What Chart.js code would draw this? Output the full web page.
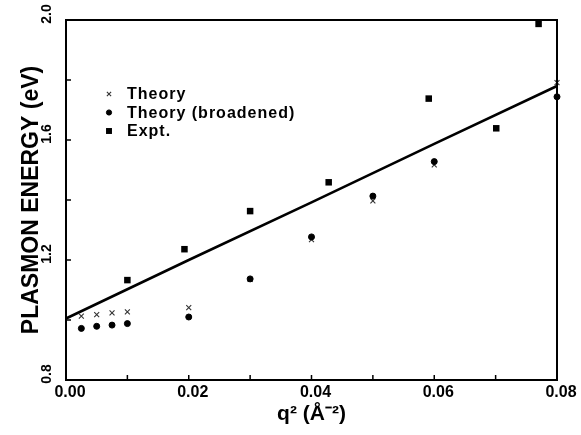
<!DOCTYPE html>
<html>
<head>
<meta charset="utf-8">
<script src="https://cdn.jsdelivr.net/npm/chart.js@4.4.1/dist/chart.umd.min.js"></script>
<style>
    html, body { margin: 0; padding: 0; background: #fff; }
    canvas { display: block; }
</style>
</head>
<body>
<canvas id="plasmonChart" width="581" height="435"></canvas>
<script>
// Plasmon energy vs q^2: theory, broadened theory, experiment and fit line.
const theoryQ2 = [0.0025, 0.005, 0.0075, 0.01, 0.02, 0.03, 0.04, 0.05, 0.06, 0.08];
const theoryEnergy = [1.013, 1.018, 1.024, 1.027, 1.041, 1.135, 1.268, 1.397, 1.517, 1.791];
const broadenedQ2 = [0.0025, 0.005, 0.0075, 0.01, 0.02, 0.03, 0.04, 0.05, 0.06, 0.08];
const broadenedEnergy = [0.972, 0.979, 0.983, 0.988, 1.01, 1.137, 1.277, 1.413, 1.528, 1.744];
const exptQ2 = [0.01, 0.0193, 0.03, 0.0428, 0.0591, 0.0701, 0.077];
const exptEnergy = [1.133, 1.236, 1.363, 1.459, 1.738, 1.639, 1.987];
const fitQ2 = [0, 0.02, 0.04, 0.06, 0.08];
const fitEnergy = [1.005, 1.2, 1.392, 1.587, 1.78];
const xTickLabels = ['0.00', '0.02', '0.04', '0.06', '0.08'];
const yTickLabels = ['0.8', '1.2', '1.6', '2.0'];

const FONT = "'Liberation Sans', Arial, Helvetica, sans-serif";
Chart.defaults.font.family = FONT;
Chart.defaults.color = '#000';

function toPoints(xs, ys) {
    return xs.map((x, i) => ({ x, y: ys[i] }));
}

// box round the plot area and short inward tick marks
const frameAndTicks = {
    id: 'frameAndTicks',
    afterDatasetsDraw(chart) {
        const { ctx, chartArea: area, scales: { x, y } } = chart;
        ctx.save();
        ctx.strokeStyle = '#000';
        ctx.lineWidth = 1.5;
        ctx.beginPath();
        x.ticks.forEach((tick) => {
            const px = x.getPixelForValue(tick.value);
            ctx.moveTo(px, area.bottom);
            ctx.lineTo(px, area.bottom - 5);
        });
        y.ticks.forEach((tick) => {
            const py = y.getPixelForValue(tick.value);
            ctx.moveTo(area.left, py);
            ctx.lineTo(area.left + 5, py);
        });
        ctx.stroke();
        ctx.lineWidth = 2;
        ctx.strokeRect(area.left, area.top, area.right - area.left, area.bottom - area.top);
        ctx.restore();
    },
};

// legend drawn inside the plot, upper left
const insideLegend = {
    id: 'insideLegend',
    afterDraw(chart) {
        const { ctx, chartArea: area } = chart;
        const entries = chart.data.datasets.filter((ds) => !ds.showLine);
        const markerX = area.left + 43;
        const textX = area.left + 61;
        let rowY = area.top + 74;
        ctx.save();
        ctx.font = `bold 16px ${FONT}`;
        ctx.letterSpacing = '1px';
        ctx.textBaseline = 'middle';
        ctx.textAlign = 'left';
        entries.forEach((ds) => {
            ctx.fillStyle = ds.pointBackgroundColor;
            ctx.strokeStyle = ds.pointBorderColor;
            ctx.lineWidth = ds.pointBorderWidth;
            Chart.helpers.drawPoint(ctx, {
                pointStyle: ds.pointStyle,
                radius: ds.legendRadius,
                rotation: 0,
                borderWidth: ds.pointBorderWidth,
            }, markerX, rowY);
            ctx.fillStyle = '#000';
            ctx.fillText(ds.label, textX, rowY + 1);
            rowY += 18.5;
        });
        ctx.restore();
    },
};

const ctx = document.getElementById('plasmonChart');
new Chart(ctx, {
    type: 'scatter',
    data: {
        datasets: [
            {
                label: 'Theory',
                data: toPoints(theoryQ2, theoryEnergy),
                pointStyle: 'crossRot',
                pointRadius: 3.5,
                legendRadius: 3,
                pointBackgroundColor: '#333',
                pointBorderColor: '#333',
                pointBorderWidth: 1.1,
                clip: false,
                order: 3,
            },
            {
                label: 'Theory (broadened)',
                data: toPoints(broadenedQ2, broadenedEnergy),
                pointStyle: 'circle',
                pointRadius: 3,
                legendRadius: 2.6,
                pointBackgroundColor: '#000',
                pointBorderColor: '#000',
                pointBorderWidth: 1,
                clip: false,
                order: 2,
            },
            {
                label: 'Expt.',
                data: toPoints(exptQ2, exptEnergy),
                pointStyle: 'rect',
                pointRadius: 4.6,
                legendRadius: 4.2,
                pointBackgroundColor: '#000',
                pointBorderColor: '#000',
                pointBorderWidth: 0,
                clip: false,
                order: 1,
            },
            {
                label: 'fit',
                data: toPoints(fitQ2, fitEnergy),
                showLine: true,
                borderColor: '#000',
                borderWidth: 2.6,
                pointRadius: 0,
                tension: 0,
                clip: false,
                order: 4,
            },
        ],
    },
    options: {
        responsive: false,
        animation: false,
        events: [],
        layout: { padding: { left: 0, right: 24, top: 20, bottom: 0 } },
        plugins: {
            legend: { display: false },
            tooltip: { enabled: false },
        },
        scales: {
            x: {
                type: 'linear',
                min: 0,
                max: 0.08,
                grid: { display: false },
                border: { display: false },
                afterFit: (scale) => { scale.height = 55; },
                ticks: {
                    stepSize: 0.01,
                    autoSkip: false,
                    maxRotation: 0,
                    padding: -5,
                    labelOffset: 4,
                    color: '#000',
                    font: { size: 16, weight: 'bold' },
                    callback: (value) => {
                        const s = Number(value).toFixed(2);
                        return xTickLabels.includes(s) ? s : '';
                    },
                },
                title: {
                    display: true,
                    text: 'q² (Å⁻²)',
                    color: '#000',
                    font: { size: 21, weight: 'bold' },
                    padding: { top: 0, bottom: 8 },
                },
            },
            y: {
                type: 'linear',
                min: 0.8,
                max: 2.0,
                grid: { display: false },
                border: { display: false },
                afterFit: (scale) => { scale.width = 66; },
                ticks: {
                    stepSize: 0.2,
                    autoSkip: false,
                    minRotation: 90,
                    maxRotation: 90,
                    crossAlign: 'center',
                    padding: 1,
                    labelOffset: -6,
                    color: '#000',
                    font: { size: 14, weight: 'bold' },
                    callback: (value) => {
                        const s = Number(value).toFixed(1);
                        return yTickLabels.includes(s) ? s : '';
                    },
                },
                title: {
                    display: true,
                    text: 'PLASMON ENERGY (eV)',
                    color: '#000',
                    font: { size: 23, weight: 'bold' },
                    padding: { top: 18, bottom: 0 },
                },
            },
        },
    },
    plugins: [frameAndTicks, insideLegend],
});
</script>
</body>
</html>
